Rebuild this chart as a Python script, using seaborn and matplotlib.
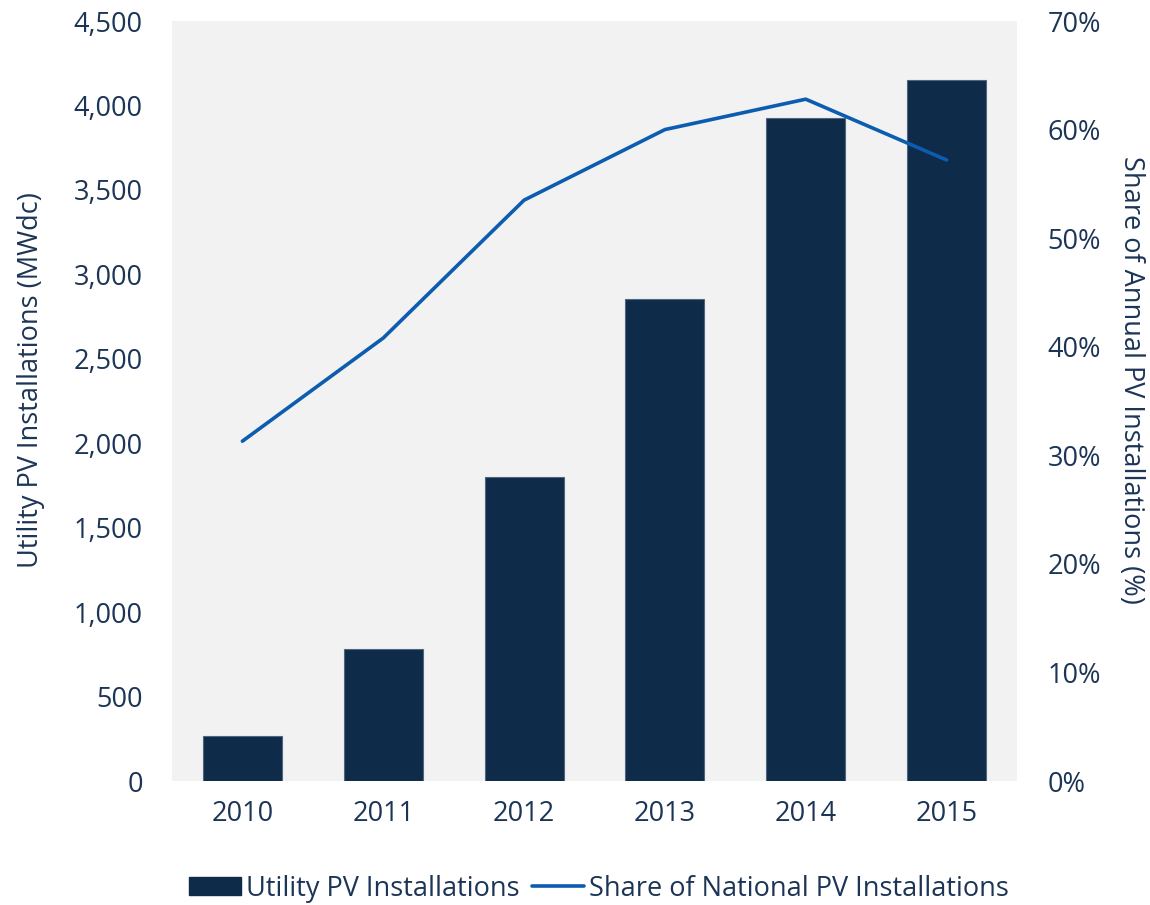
import matplotlib
matplotlib.use("Agg")
import matplotlib.pyplot as plt
import matplotlib.ticker as mticker
from matplotlib.patches import Patch
from matplotlib.lines import Line2D
import numpy as np
import pandas as pd
import seaborn as sns

years = ["2010", "2011", "2012", "2013", "2014", "2015"]
utility_mw = [265, 780, 1800, 2855, 3925, 4150]
share_pct = [31.3, 40.8, 53.5, 60.0, 62.8, 57.2]

left_ticks = [0, 500, 1000, 1500, 2000, 2500, 3000, 3500, 4000, 4500]
right_ticks = [0, 10, 20, 30, 40, 50, 60, 70]

bar_color = "#0f2b4a"
line_color = "#0c5cb0"
text_color = "#1c3557"
panel_color = "#f2f2f2"

sns.set_theme(style="white")
plt.rcParams["font.family"] = ["Open Sans", "DejaVu Sans"]

df = pd.DataFrame({"year": years, "mw": utility_mw, "share": share_pct})
df["pos"] = np.arange(len(df))

fig, ax = plt.subplots(figsize=(11.5, 9.05), dpi=100)
fig.subplots_adjust(left=172 / 1150, right=1017 / 1150,
                    top=1 - 21 / 905, bottom=1 - 781 / 905)
ax.set_facecolor(panel_color)

# Annual utility-scale installations as bars
sns.barplot(data=df, x="year", y="mw", color=bar_color, width=0.56,
            edgecolor="#50657f", linewidth=0.8, saturation=1, ax=ax)
ax.set_xlim(-0.5, len(years) - 0.5)
ax.set_ylim(0, 4500)
ax.set_yticks(left_ticks)
ax.yaxis.set_major_formatter(mticker.FuncFormatter(lambda v, p: f"{int(v):,}"))
ax.set_xlabel("")
ax.set_ylabel("Utility PV Installations (MWdc)", fontsize=19.5, color=text_color,
              ha="center", va="center")
ax.yaxis.set_label_coords(-0.167, 0.527)
ax.tick_params(axis="y", length=0, pad=21, labelsize=19.5, labelcolor=text_color)
ax.tick_params(axis="x", length=0, pad=14, labelsize=19.5, labelcolor=text_color)
for s in ax.spines.values():
    s.set_visible(False)

# Share of national installations on the secondary axis
ax2 = ax.twinx()
sns.lineplot(data=df, x="pos", y="share", color=line_color, linewidth=2.6,
             solid_capstyle="round", ax=ax2)
ax2.set_xlim(-0.5, len(years) - 0.5)
ax2.set_ylim(0, 70)
ax2.set_yticks(right_ticks)
ax2.yaxis.set_major_formatter(mticker.FuncFormatter(lambda v, p: f"{int(v)}%"))
ax2.set_ylabel("Share of Annual PV Installations (%)", fontsize=19.5,
               color=text_color, rotation=270, ha="center", va="center")
ax2.yaxis.set_label_coords(1.135, 0.528)
ax2.tick_params(axis="y", length=0, pad=22, labelsize=19.5, labelcolor=text_color)
for s in ax2.spines.values():
    s.set_visible(False)
ax2.grid(False)
ax.grid(False)

handles = [
    Patch(facecolor=bar_color, edgecolor=bar_color, label="Utility PV Installations"),
    Line2D([0], [0], color=line_color, linewidth=2.6,
           label="Share of National PV Installations"),
]
leg = fig.legend(handles=handles, loc="center", bbox_to_anchor=(0.521, 0.018),
                 ncol=2, frameon=False, fontsize=19.5, handlelength=1.9,
                 handleheight=0.67, handletextpad=0.2, columnspacing=0.45)
for t in leg.get_texts():
    t.set_color(text_color)

fig.savefig("out.png", dpi=100)
